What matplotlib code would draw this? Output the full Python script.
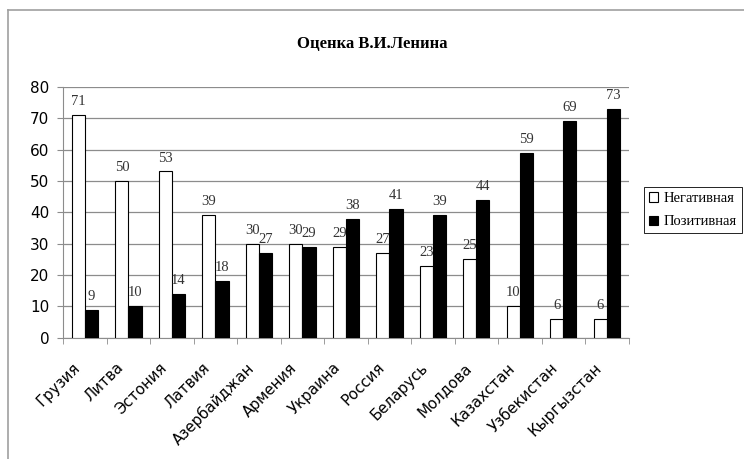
import numpy as np
import matplotlib.pyplot as plt
import matplotlib.transforms as mtransforms
from matplotlib.lines import Line2D

# Data
countries = ['Грузия', 'Литва', 'Эстония', 'Латвия', 'Азербайджан', 'Армения',
             'Украина', 'Россия', 'Беларусь', 'Молдова', 'Казахстан', 'Узбекистан',
             'Кыргызстан']
negative = [71, 50, 53, 39, 30, 30, 29, 27, 23, 25, 10, 6, 6]
positive = [9, 10, 14, 18, 27, 29, 38, 41, 39, 44, 59, 69, 73]

serif = 'Liberation Serif'
sans = 'DejaVu Sans'

fig = plt.figure(figsize=(7.44, 4.59), dpi=100)
ax = fig.add_axes([0.085, 0.264, 0.76, 0.547])

x = np.arange(len(countries))
w = 0.3
b1 = ax.bar(x - w / 2, negative, w, color='white', edgecolor='black', linewidth=0.8,
            label='Негативная', zorder=3)
b2 = ax.bar(x + w / 2, positive, w, color='black', edgecolor='black', linewidth=0.8,
            label='Позитивная', zorder=3)

# value labels above bars
for bars, vals in ((b1, negative), (b2, positive)):
    for r, v in zip(bars, vals):
        ax.annotate(str(v), (r.get_x() + r.get_width() / 2, v), xytext=(0, 5),
                    textcoords='offset points', ha='center', va='bottom',
                    fontsize=10.5, family=serif, color='#333333')

ax.set_xlim(-0.5, len(countries) - 0.5)
ax.set_ylim(0, 80)
ax.set_yticks(range(0, 81, 10))
ax.yaxis.grid(True, color='#8c8c8c', linewidth=0.9, zorder=0)
ax.tick_params(axis='y', labelsize=11, length=4, color='#8c8c8c', pad=6)

ax.set_xticks(x)
ax.set_xticklabels(countries, rotation=45, ha='right', rotation_mode='anchor',
                   fontsize=10.8, family=sans)
ax.tick_params(axis='x', which='major', length=0, pad=16)
shift = mtransforms.ScaledTranslation(-13 / 100, 0, fig.dpi_scale_trans)
for lbl in ax.get_xticklabels():
    lbl.set_transform(lbl.get_transform() + shift)
ax.set_xticks(np.arange(-0.5, len(countries), 1), minor=True)
ax.tick_params(axis='x', which='minor', length=4, color='#8c8c8c')

for s in ('top', 'right'):
    ax.spines[s].set_visible(False)
for s in ('left', 'bottom'):
    ax.spines[s].set_color('#8c8c8c')

fig.text(0.5, 0.905, 'Оценка В.И.Ленина', ha='center', va='center',
         fontsize=12, fontweight='bold', family=serif)

leg = fig.legend(handles=[b1, b2], loc='upper left',
                 bbox_to_anchor=(644 / 744, 1 - 187 / 459), frameon=True,
                 fancybox=False, edgecolor='black', framealpha=1,
                 prop={'family': serif, 'size': 10.5},
                 handlelength=0.6, handleheight=0.6, handletextpad=0.4,
                 borderpad=0.35, labelspacing=0.7, borderaxespad=0)
leg.get_frame().set_linewidth(0.6)

# outer chart frame (cut off on the right and bottom)
fig.add_artist(Line2D([8 / 744, 1], [1 - 10 / 459, 1 - 10 / 459],
                      transform=fig.transFigure, color='#a0a0a0', linewidth=1.2))
fig.add_artist(Line2D([8 / 744, 8 / 744], [0, 1 - 10 / 459],
                      transform=fig.transFigure, color='#a0a0a0', linewidth=1.2))

fig.savefig('out.png', dpi=100)
